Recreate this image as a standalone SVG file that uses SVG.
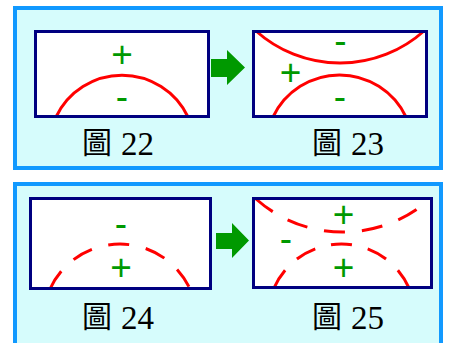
<svg xmlns="http://www.w3.org/2000/svg" width="449" height="343" viewBox="0 0 449 343">
<style>
.panel{fill:#d6fcfc;stroke:#1199ff;stroke-width:4}
.box{fill:#ffffff}
.frame{fill:none;stroke:#000080;stroke-width:3}
.arc{fill:none;stroke:#ff0000;stroke-width:3}
.dash{fill:none;stroke:#ff0000;stroke-width:3;stroke-dasharray:21 17}
.dash2{fill:none;stroke:#ff0000;stroke-width:3;stroke-dasharray:21 16.3}
.sign{font-family:"Liberation Sans",Arial,sans-serif;font-size:37px;fill:#009900;text-anchor:middle}
.cjk{font-family:"Noto Sans CJK TC","Noto Sans CJK SC",sans-serif;font-size:30px;fill:#000}
.num{font-family:"Liberation Serif","Times New Roman",serif;font-size:33px;fill:#000}
.arrow{fill:#009900}
</style>
<rect width="449" height="343" fill="#ffffff"/>
<rect class="panel" x="15" y="8" width="426" height="160"/>
<rect class="panel" x="15" y="184" width="426" height="175"/>

<g id="fig22">
<rect class="box" x="35.5" y="31.5" width="173" height="85"/>
<path class="arc" d="M56,117 A73,73 0 0 1 188,117"/>
<rect class="frame" x="35.5" y="31.5" width="173" height="85"/>
<text class="sign" x="122" y="67">+</text>
<text class="sign" x="122" y="109">-</text>
<text><tspan class="cjk" x="82" y="153">圖</tspan><tspan class="num" x="121" y="155">22</tspan></text>
</g>

<g id="fig23">
<rect class="box" x="253.5" y="31.5" width="173" height="85"/>
<path class="arc" d="M256,31 A126,126 0 0 0 424,31"/>
<path class="arc" d="M273,117 A73.6,73.6 0 0 1 406,117"/>
<rect class="frame" x="253.5" y="31.5" width="173" height="85"/>
<text class="sign" x="340.5" y="53">-</text>
<text class="sign" x="290.5" y="84.5">+</text>
<text class="sign" x="340" y="109">-</text>
<text><tspan class="cjk" x="312" y="153">圖</tspan><tspan class="num" x="351" y="155">23</tspan></text>
</g>

<g id="fig24">
<rect class="box" x="30.5" y="198.5" width="180" height="90"/>
<path class="dash" d="M50,289 A77,77 0 0 1 190,289"/>
<rect class="frame" x="30.5" y="198.5" width="180" height="90"/>
<text class="sign" x="121" y="235.5">-</text>
<text class="sign" x="121" y="279.5">+</text>
<text><tspan class="cjk" x="82" y="327">圖</tspan><tspan class="num" x="121" y="329">24</tspan></text>
</g>

<g id="fig25">
<rect class="box" x="253.5" y="198.5" width="178" height="89"/>
<path class="dash" d="M256,199 A131,131 0 0 0 430,199"/>
<path class="dash2" d="M274,288 A73.8,73.8 0 0 1 409,288"/>
<rect class="frame" x="253.5" y="198.5" width="178" height="89"/>
<text class="sign" x="343.5" y="227">+</text>
<text class="sign" x="286" y="251">-</text>
<text class="sign" x="343.5" y="279.5">+</text>
<text><tspan class="cjk" x="312" y="327">圖</tspan><tspan class="num" x="351" y="329">25</tspan></text>
</g>

<g id="connectors">
<polygon class="arrow" points="211,59 227,59 227,50 245,67.5 227,85 227,77 211,77"/>
<polygon class="arrow" points="216,233 232,233 232,223 249,240.5 232,258 232,249 216,249"/>
</g>
</svg>
